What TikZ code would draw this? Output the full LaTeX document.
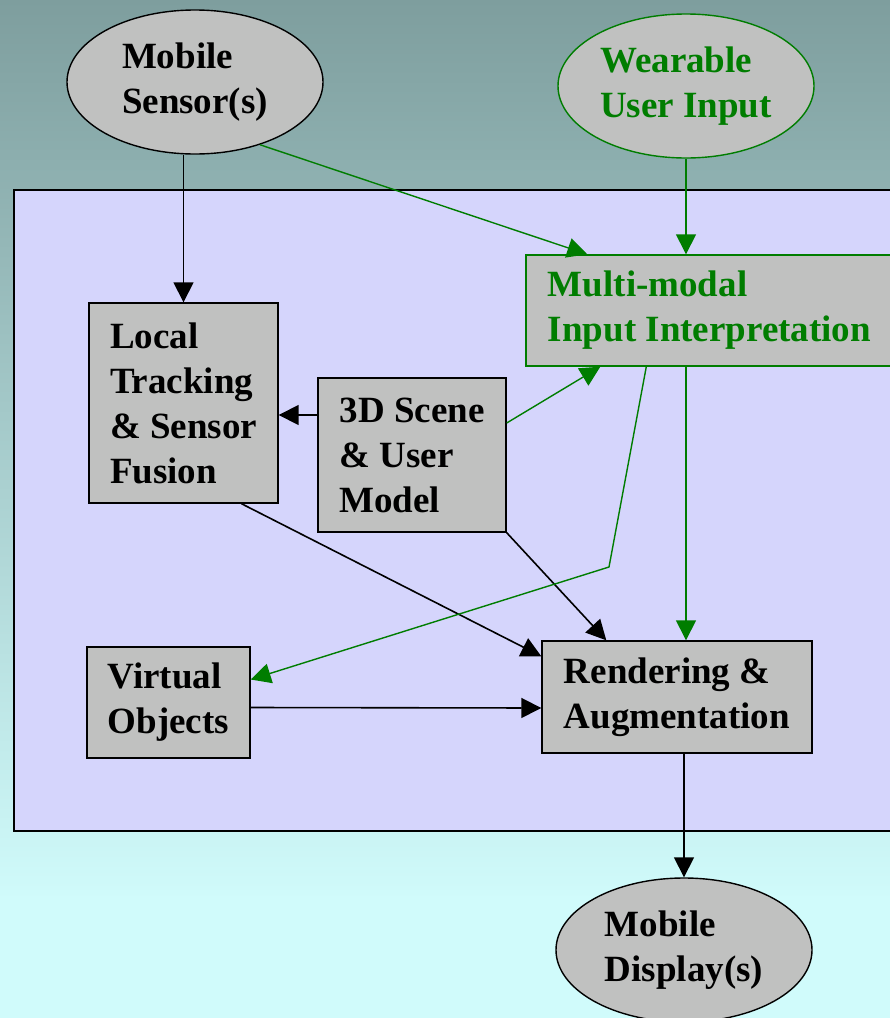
\documentclass[tikz,border=0pt]{standalone}
\usepackage{fontspec}
\setmainfont{Liberation Serif}
\usetikzlibrary{shapes.geometric,arrows.meta}
\definecolor{nodegray}{RGB}{192,193,192}
\definecolor{panel}{RGB}{213,213,252}
\definecolor{skytop}{RGB}{126,158,158}
\definecolor{skybot}{RGB}{208,251,251}
\definecolor{ingreen}{RGB}{0,125,0}
\begin{document}
\begin{tikzpicture}[x=1pt,y=-1pt,
    every node/.style={font=\bfseries\fontsize{37}{45}\selectfont,align=left,fill=nodegray,line width=1.4pt,inner sep=0pt},
    blob/.style={ellipse,draw,minimum width=256pt,minimum height=144pt},
    blk/.style={rectangle,draw},
    arr/.style={-{Triangle[length=20pt,width=20pt]},line width=1.6pt},
    garr/.style={arr,color=ingreen,line width=1.4pt}]
    \clip (0,0) rectangle (890,1018);
    % background and the device panel
    \shade[top color=skytop,bottom color=skybot] (0,0) rectangle (890,900);
    \fill[skybot] (0,899) rectangle (890,1018);
    \draw[fill=panel,line width=1.6pt] (14,190) rectangle (910,831);

    \begin{scope}
        \node[blob] (sensor) at (195,82) {Mobile\\Sensor(s)};
        \node[blob,draw=ingreen,text=ingreen] (wear) at (686,86) {Wearable\\User Input};

        \node[blk,draw=ingreen,text=ingreen,minimum width=367pt,minimum height=111pt] (multi) at (709.5,310.5) {Multi-modal\\Input Interpretation};
        \node[blk,minimum width=189pt,minimum height=200pt] (track) at (183.5,403) {Local\\Tracking\\\& Sensor\\Fusion};
        \node[blk,minimum width=188pt,minimum height=154pt] (scene) at (412,455) {3D Scene\\\& User\\Model};

        \node[blk,minimum width=163pt,minimum height=111pt] (virt) at (168.5,702.5) {Virtual\\Objects};
        \node[blk,minimum width=270pt,minimum height=112pt] (render) at (677,697) {Rendering \&\\Augmentation};

        \node[blob] (display) at (684,950) {Mobile\\Display(s)};
    \end{scope}
    \coordinate (kink) at (609,567);

    \path [arr] (sensor.south -| track.north) edge (track.north);
    \path [arr] ([yshift=40pt]scene.west) edge ([yshift=-12pt]track.east);
    \path [arr] ([xshift=58pt]track.south) edge ([yshift=-16pt]render.north west);
    \path [arr] (scene.south east) edge ([xshift=65pt]render.north west);
    \path [arr] ([yshift=-5pt]virt.east) edge ([yshift=-11pt]render.west);
    \path [arr] (display.north |- render.south) edge (display.north);

    \path [garr] (sensor.-44) edge ([xshift=62pt]multi.north west);
    \path [garr] (wear.south) edge (wear.south |- multi.north);
    \path [garr] ([yshift=32pt]scene.east) edge ([xshift=75pt]multi.south west);
    \path [garr] (wear.south |- multi.south) edge (wear.south |- render.north);
    \draw [garr] ([xshift=121pt]multi.south west) -- (kink) -- ([yshift=23pt]virt.east);
\end{tikzpicture}
\end{document}
